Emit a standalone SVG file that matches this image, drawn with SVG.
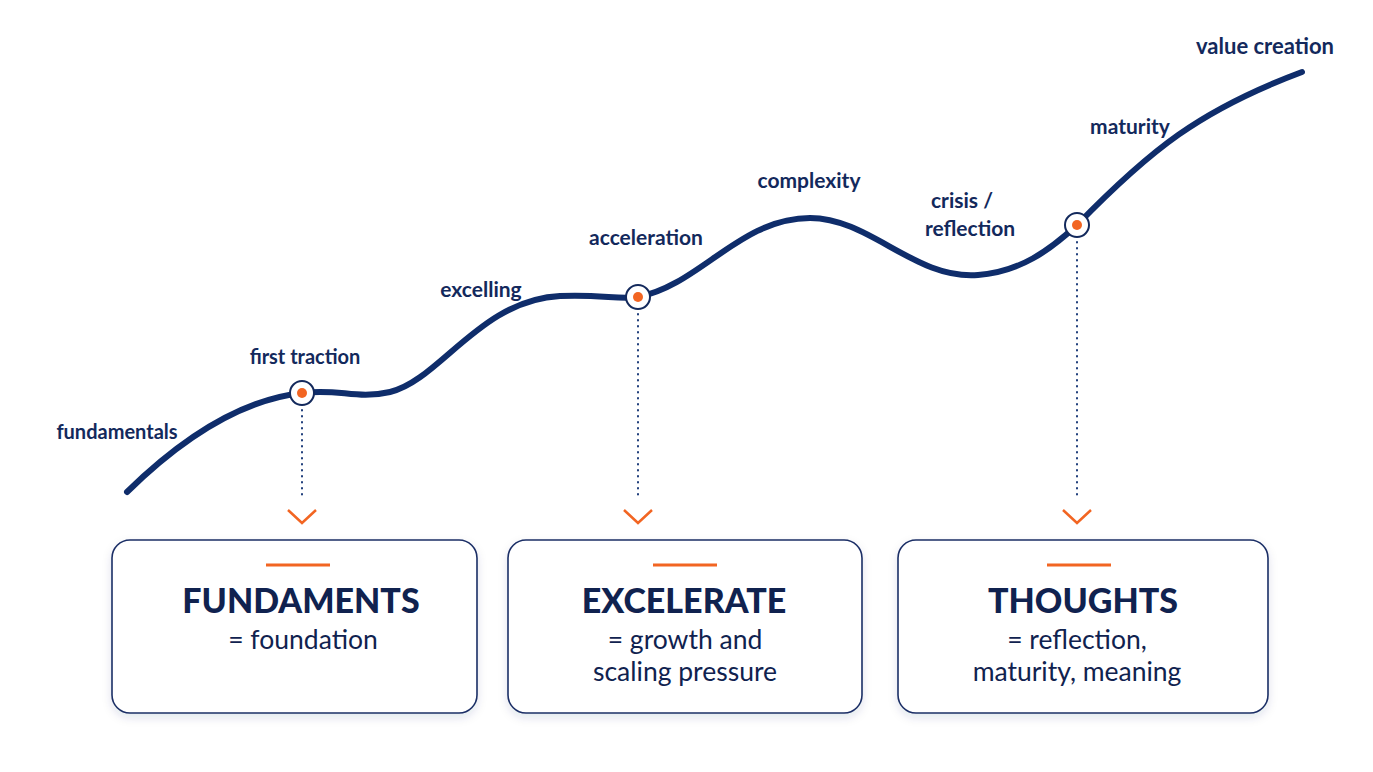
<svg xmlns="http://www.w3.org/2000/svg" width="1373" height="772" viewBox="0 0 1373 772">
<defs>
<style>
.lbl{font-family:Lato,"Open Sans",sans-serif;font-weight:700;font-size:21px;fill:#13295c;text-anchor:middle}
.ttl{font-family:Lato,"Open Sans",sans-serif;font-weight:900;font-size:34px;fill:#10224f;text-anchor:middle}
.sub{font-family:Lato,"Open Sans",sans-serif;font-weight:400;font-size:26.5px;fill:#10224f;text-anchor:middle}
.box{fill:#fff;stroke:#1b2f66;stroke-width:1.6}
.bar{stroke:#f26522;stroke-width:3}
.dot{stroke:#1b3a78;stroke-width:2;stroke-dasharray:0.5 5.5;stroke-linecap:round;fill:none}
.chev{stroke:#f26522;stroke-width:2.5;fill:none}
.ring{fill:#fff;stroke:#13295c;stroke-width:2}
.core{fill:#f26522}
</style>
<filter id="sh" x="-10%" y="-10%" width="120%" height="130%">
<feDropShadow dx="0" dy="4" stdDeviation="5" flood-color="#1b2f66" flood-opacity="0.12"/>
</filter>
</defs>
<rect width="1373" height="772" fill="#fff"/>
<g id="connectors">
<path d="M127,492 C180,440 240,400 302,393 C340,388 355,400 390,392 C440,380 480,300 560,296 C600,294 620,300 638,297 C700,285 740,218 810,218 C870,218 915,280 978,275 C1020,272 1050,250 1077,225 C1150,150 1200,110 1302,72" fill="none" stroke="#0f2d6b" stroke-width="6" stroke-linecap="round"/>
<line class="dot" x1="302" y1="410" x2="302" y2="500"/>
<polyline class="chev" points="288,510 302,523 316,510"/>
<line class="dot" x1="638" y1="314" x2="638" y2="500"/>
<polyline class="chev" points="624,510 638,523 652,510"/>
<line class="dot" x1="1077" y1="242" x2="1077" y2="500"/>
<polyline class="chev" points="1063,510 1077,523 1091,510"/>
</g>
<g id="points">
<circle class="ring" cx="302" cy="393" r="12"/><circle class="core" cx="302" cy="393" r="5"/>
<circle class="ring" cx="638" cy="297" r="12"/><circle class="core" cx="638" cy="297" r="5"/>
<circle class="ring" cx="1077" cy="225" r="12"/><circle class="core" cx="1077" cy="225" r="5"/>
</g>
<g id="labels">
<text class="lbl" x="117" y="439" style="font-size:20px">fundamentals</text>
<text class="lbl" x="305" y="364" style="font-size:20px">first traction</text>
<text class="lbl" x="481" y="297">excelling</text>
<text class="lbl" x="646" y="245">acceleration</text>
<text class="lbl" x="809" y="188">complexity</text>
<text class="lbl" x="962" y="208">crisis /</text>
<text class="lbl" x="970" y="236">reflection</text>
<text class="lbl" x="1130" y="134">maturity</text>
<text class="lbl" x="1265" y="54" style="font-size:22px">value creation</text>
</g>
<g id="box-fundaments">
<rect class="box" x="112" y="540" width="365" height="173" rx="18" filter="url(#sh)"/>
<line class="bar" x1="266" y1="565" x2="330" y2="565"/>
<text class="ttl" x="301" y="613">FUNDAMENTS</text>
<text class="sub" x="303" y="649">= foundation</text>
</g>
<g id="box-excelerate">
<rect class="box" x="508" y="540" width="354" height="173" rx="18" filter="url(#sh)"/>
<line class="bar" x1="653" y1="565" x2="717" y2="565"/>
<text class="ttl" x="684" y="613">EXCELERATE</text>
<text class="sub" x="685" y="649">= growth and</text>
<text class="sub" x="685" y="681">scaling pressure</text>
</g>
<g id="box-thoughts">
<rect class="box" x="898" y="540" width="370" height="173" rx="18" filter="url(#sh)"/>
<line class="bar" x1="1047" y1="565" x2="1111" y2="565"/>
<text class="ttl" x="1083" y="613">THOUGHTS</text>
<text class="sub" x="1077" y="649">= reflection,</text>
<text class="sub" x="1077" y="681">maturity, meaning</text>
</g>
</svg>
